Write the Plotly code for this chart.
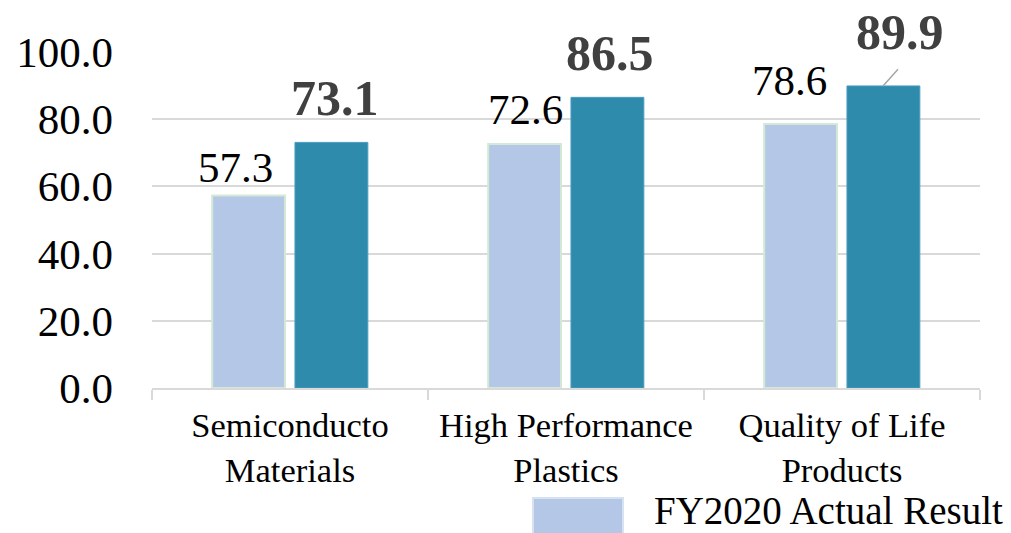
import plotly.graph_objects as go

# Segment sales (billion yen)
categories = ["Semiconducto<br>Materials", "High Performance<br>Plastics", "Quality of Life<br>Products"]
actual_name = "FY2020 Actual Result"
plan_name = "FY2023 Plan"
actual_values = [57.3, 72.6, 78.6]
plan_values = [73.1, 86.5, 89.9]
y_ticks = [0, 20, 40, 60, 80, 100]

SERIF = "Liberation Serif"
LIGHT = "#B4C7E7"
DARK = "#2E8BAB"
GRID = "#D9D9D9"

fig = go.Figure()
fig.add_trace(go.Bar(
    x=categories, y=actual_values, name=actual_name,
    marker=dict(color=LIGHT, line=dict(color="#D3E9D5", width=2)),
    showlegend=False,
))
fig.add_trace(go.Bar(
    x=categories, y=plan_values, name=plan_name,
    marker=dict(color=DARK, line=dict(color="#4A9CC0", width=1)),
    showlegend=False,
))

# Value labels: plain for actual, bold for plan
actual_shift = [(-55, 28), (-41, 35), (-53, 43)]
for cat, v, (dx, dy) in zip(categories, actual_values, actual_shift):
    fig.add_annotation(
        x=cat, y=v, text=f"{v:.1f}", showarrow=False,
        xshift=dx, yshift=dy, yanchor="middle",
        font=dict(family=SERIF, size=43, color="#000000"),
    )

plan_shift = [(45, 44), (44, 44), (58, 54)]
for cat, v, (dx, dy) in zip(categories, plan_values, plan_shift):
    fig.add_annotation(
        x=cat, y=v, text=f"<b>{v:.1f}</b>", showarrow=False,
        xshift=dx, yshift=dy, yanchor="middle",
        font=dict(family=SERIF, size=50, color="#404040"),
    )
# leader line from the last plan bar up to its label
fig.add_annotation(
    x=categories[2], y=plan_values[2], text=" ",
    showarrow=True, arrowhead=0, arrowwidth=1.5, arrowcolor="#A6A6A6",
    xshift=41, ax=17, ay=-19, standoff=0,
    font=dict(family=SERIF, size=2),
)

# Legend entry (partially outside the page at the bottom)
PW = 1011 - 152 - 31
def px_x(p):
    return (p - 152) / PW
PH = 336
def px_y(p):
    return (388 - p) / PH

fig.add_shape(
    type="rect", xref="paper", yref="paper",
    x0=px_x(533), x1=px_x(623), y0=px_y(545), y1=px_y(498),
    fillcolor=LIGHT, line=dict(color="#D6E2F2", width=2),
)
fig.add_annotation(
    xref="paper", yref="paper", x=px_x(652), y=px_y(510),
    xanchor="left", yanchor="middle", text=actual_name, showarrow=False,
    font=dict(family=SERIF, size=39, color="#000000"),
)

fig.update_layout(
    width=1011, height=533,
    margin=dict(l=152, r=31, t=52, b=145, autoexpand=False),
    paper_bgcolor="white", plot_bgcolor="white",
    barmode="group", bargap=0.40, bargroupgap=0.12,
    font=dict(family=SERIF, color="#000000"),
)
fig.update_xaxes(
    showline=True, linecolor=GRID, linewidth=2,
    ticks="outside", tickson="boundaries", ticklen=10, tickcolor=GRID, tickwidth=2,
    ticklabelstandoff=6,
    tickfont=dict(family=SERIF, size=34.5, color="#000000"),
    showgrid=False,
)
fig.update_yaxes(
    range=[0, 100], tickvals=y_ticks, tickformat=".1f",
    showgrid=True, gridcolor=GRID, gridwidth=2,
    zeroline=False, showline=False, ticks="",
    ticklabelstandoff=38,
    tickfont=dict(family=SERIF, size=43, color="#000000"),
)

fig.write_html("out.html")
